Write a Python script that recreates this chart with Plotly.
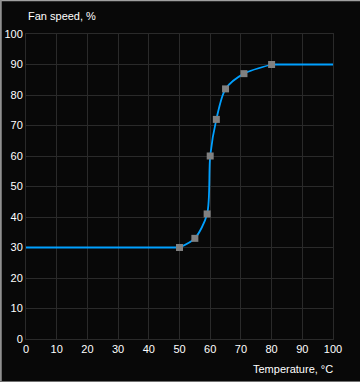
import plotly.graph_objects as go

# Data
curve_temp = [50, 55, 59, 60, 62, 65, 71, 80]
curve_speed = [30, 33, 41, 60, 72, 82, 87, 90]
temp_min, temp_max = 0, 100
tick_vals = list(range(0, 101, 10))
tick_text = [str(v) for v in tick_vals]

W, H = 360, 382
L, R, T, B = 26, 27, 34, 43
pw, ph = W - L - R, H - T - B

line_color = "#00a0ff"
grid_color = "#2a2a2a"
bg = "#080808"
font = dict(family="Liberation Sans, Arial, sans-serif", size=11, color="#ffffff")

fig = go.Figure()
# flat segments
fig.add_trace(go.Scatter(x=[temp_min, curve_temp[0]], y=[curve_speed[0]] * 2, mode="lines",
                         line=dict(color=line_color, width=1.8), hoverinfo="skip"))
fig.add_trace(go.Scatter(x=[curve_temp[-1], temp_max], y=[curve_speed[-1]] * 2, mode="lines",
                         line=dict(color=line_color, width=1.8), hoverinfo="skip"))
# spline curve
fig.add_trace(go.Scatter(x=curve_temp, y=curve_speed, mode="lines",
                         line=dict(color=line_color, width=1.8, shape="spline", smoothing=0.8)))
# control points
fig.add_trace(go.Scatter(x=curve_temp, y=curve_speed, mode="markers",
                         marker=dict(symbol="square", size=7, color="#808080", line=dict(width=0))))

axis_common = dict(
    range=[0, 100], tickvals=tick_vals, ticktext=tick_text,
    showgrid=True, gridcolor=grid_color, gridwidth=1,
    zeroline=False, showline=True, linecolor=grid_color, linewidth=1, mirror=True,
    ticks="", tickfont=font, fixedrange=True, automargin=False,
)
fig.update_xaxes(**axis_common)
fig.update_yaxes(**axis_common)

fig.add_annotation(text="Fan speed, %", xref="paper", yref="paper", x=0, y=1 + 18 / ph,
                   xanchor="left", yanchor="middle", showarrow=False, font=font)
fig.add_annotation(text="Temperature, °C", xref="paper", yref="paper", x=1 + 2 / pw, y=-30 / ph,
                   xanchor="right", yanchor="middle", showarrow=False, font=font)

# window border (top, left, bottom)
fig.add_shape(type="line", xref="paper", yref="paper", x0=-L / pw, x1=(pw + R) / pw,
              y0=1 + (T - 0.5) / ph, y1=1 + (T - 0.5) / ph, line=dict(color="#a0a0a0", width=1.5))
fig.add_shape(type="line", xref="paper", yref="paper", x0=-(L - 0.75) / pw, x1=-(L - 0.75) / pw,
              y0=-B / ph, y1=1 + T / ph, line=dict(color="#909090", width=2))
fig.add_shape(type="line", xref="paper", yref="paper", x0=-L / pw, x1=(pw + R) / pw,
              y0=-(B - 0.5) / ph, y1=-(B - 0.5) / ph, line=dict(color="#707070", width=1))

fig.update_layout(
    width=W, height=H, margin=dict(l=L, r=R, t=T, b=B),
    paper_bgcolor=bg, plot_bgcolor=bg, showlegend=False, font=font,
)

fig.write_html("out.html", config={"displayModeBar": False},
               post_script="document.body.style.margin='0';document.body.style.overflow='hidden';")
